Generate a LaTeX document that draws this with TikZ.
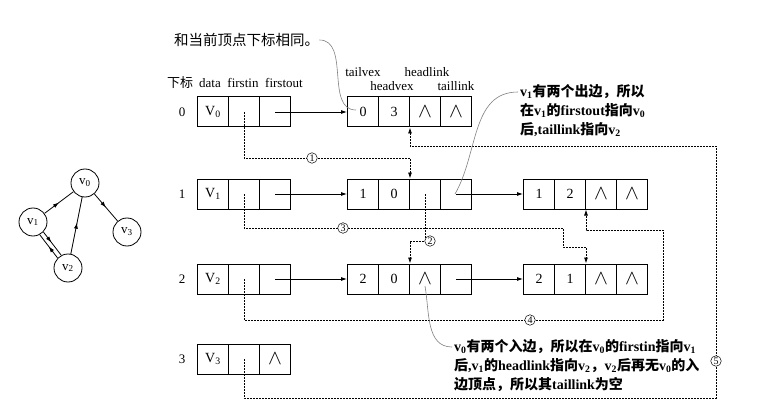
\documentclass[tikz,border=0pt]{standalone}
\usepackage{fontspec}
\setmainfont{Liberation Serif}
\newfontfamily\cjk{Noto Sans CJK SC}
\usetikzlibrary{arrows.meta,decorations.markings}
\newcommand{\zh}[1]{{\cjk #1}}
\newcommand{\nilmark}{{\fontsize{20}{20}\selectfont$\wedge$}}
\tikzset{
  cell/.style={draw, line width=1pt, minimum width=31pt, minimum height=30pt, inner sep=0pt, font=\fontsize{14}{16}\selectfont},
  head/.style={inner sep=0pt, font=\fontsize{13}{15}\selectfont},
  link/.style={-{Latex[length=6pt,width=4pt]}, line width=0.8pt},
  dlink/.style={-{Latex[length=6pt,width=4pt]}, line width=0.8pt, dash pattern=on 2pt off 1pt},
  num/.style={circle, draw, line width=0.5pt, fill=white, inner sep=0.8pt, font=\fontsize{10}{10}\selectfont},
  note/.style={draw=gray, line width=0.6pt},
  notetext/.style={inner sep=0pt, align=left, font=\fontsize{14}{19}\selectfont\bfseries},
  vex/.style={circle, draw, line width=0.8pt, minimum size=28pt, inner sep=0pt, font=\fontsize{13}{15}\selectfont},
  gedge/.style={line width=0.8pt, postaction={decorate},
    decoration={markings, mark=at position #1 with {\arrow{Latex[length=6pt,width=4pt]}}}},
  gedge/.default=0.55
}
\begin{document}
\begin{tikzpicture}[x=1pt, y=-1pt]
\useasboundingbox (0,0) rectangle (764,412);
% graph
\node[vex] (g0) at (85,183) {v\textsubscript{0}};
\node[vex] (g1) at (33,222) {v\textsubscript{1}};
\node[vex] (g2) at (68,268) {v\textsubscript{2}};
\node[vex] (g3) at (127,232) {v\textsubscript{3}};
\draw[gedge=0.5] (g1) -- (g0);
\draw[gedge=0.5] (g0) -- (g3);
\draw[gedge] (g2) -- (g0);
\draw[gedge=0.45] ([shift={(1.8pt,1.4pt)}]g1.-53) -- ([shift={(1.8pt,1.4pt)}]g2.127);
\draw[gedge=0.5] ([shift={(-1.8pt,-1.4pt)}]g2.127) -- ([shift={(-1.8pt,-1.4pt)}]g1.-53);

% headers
\node[head] (hidx) at (180,83) {\zh{下标}};
\node[head] (hdata) at (210,83) {data};
\node[head] (hin) at (243,83) {firstin};
\node[head] (hout) at (284,83) {firstout};
\node[head] (htv) at (363,72) {tailvex};
\node[head] (hhl) at (427,72) {headlink};
\node[head] (hhv) at (392,86) {headvex};
\node[head] (htl) at (456,86) {taillink};

% row numbers
\node[head] (r0) at (182,112) {0};
\node[head] (r1) at (182,194) {1};
\node[head] (r2) at (182,279) {2};
\node[head] (r3) at (182,359) {3};

% vertex table
\node[cell] (v0d) at (213,112) {V\textsubscript{0}};
\node[cell] (v0in) at (244,112) {};
\node[cell] (v0out) at (275,112) {};
\node[cell] (v1d) at (213,194) {V\textsubscript{1}};
\node[cell] (v1in) at (244,194) {};
\node[cell] (v1out) at (275,194) {};
\node[cell] (v2d) at (213,279) {V\textsubscript{2}};
\node[cell] (v2in) at (244,279) {};
\node[cell] (v2out) at (275,279) {};
\node[cell] (v3d) at (213,359) {V\textsubscript{3}};
\node[cell] (v3in) at (244,359) {};
\node[cell] (v3out) at (275,359) {\nilmark};

% arc nodes
\node[cell] (e03a) at (363,112) {0};
\node[cell] (e03b) at (394,112) {3};
\node[cell] (e03c) at (425,112) {\nilmark};
\node[cell] (e03d) at (456,112) {\nilmark};
\node[cell] (e10a) at (363,194) {1};
\node[cell] (e10b) at (394,194) {0};
\node[cell] (e10c) at (425,194) {};
\node[cell] (e10d) at (456,194) {};
\node[cell] (e12a) at (539,194) {1};
\node[cell] (e12b) at (570,194) {2};
\node[cell] (e12c) at (601,194) {\nilmark};
\node[cell] (e12d) at (632,194) {\nilmark};
\node[cell] (e20a) at (363,279) {2};
\node[cell] (e20b) at (394,279) {0};
\node[cell] (e20c) at (425,279) {\nilmark};
\node[cell] (e20d) at (456,279) {};
\node[cell] (e21a) at (539,279) {2};
\node[cell] (e21b) at (570,279) {1};
\node[cell] (e21c) at (601,279) {\nilmark};
\node[cell] (e21d) at (632,279) {\nilmark};

% out links
\draw[link] (v0out.center) -- (e03a.west);
\draw[link] (v1out.center) -- (e10a.west);
\draw[link] (v2out.center) -- (e20a.west);
\draw[link] (e10d.center) -- (e12a.west);
\draw[link] (e20d.center) -- (e21a.west);

% in links
\coordinate (b3a) at (563,228);
\coordinate (b3b) at (563,247);
\coordinate (b4a) at (663,320);
\coordinate (b4b) at (663,230);
\coordinate (b5a) at (716,398);
\coordinate (b5b) at (716,146);
\draw[dlink] (v0in.center) -- ++(0,46) -| (e10b.north east);
\draw[dlink] (e10c.center) -- ++(0,47) -| (e20b.north east);
\draw[dlink] (v1in.center) |- (b3a) -- (b3b) -| (e21b.north east);
\draw[dlink] (v2in.center) |- (b4a) -- (b4b) -| (e12b.south east);
\draw[dlink] (v3in.center) |- (b5a) -- (b5b) -| (e03b.south east);
\node[num] (n1) at (312,158) {1};
\node[num] (n2) at (430,241) {2};
\node[num] (n3) at (343,228) {3};
\node[num] (n4) at (530,320) {4};
\node[num] (n5) at (716,361) {5};

% notes
\node[inner sep=0pt, anchor=west, font=\fontsize{14.5}{16}\selectfont] (t1) at (174,40) {\zh{和当前顶点下标相同。}};
\node[notetext, anchor=north west] (t2) at (520,84) {v\textsubscript{1}\zh{有两个出边，所以}\\
  \zh{在}v\textsubscript{1}\zh{的}firstout\zh{指向}v\textsubscript{0}\\
  \zh{后},taillink\zh{指向}v\textsubscript{2}};
\node[notetext, anchor=north west] (t3) at (454,339) {v\textsubscript{0}\zh{有两个入边，所以在}v\textsubscript{0}\zh{的}firstin\zh{指向}v\textsubscript{1}\\
  \zh{后},v\textsubscript{1}\zh{的}headlink\zh{指向}v\textsubscript{2}\zh{，}v\textsubscript{2}\zh{后再无}v\textsubscript{0}\zh{的入}\\
  \zh{边顶点，所以其}taillink\zh{为空}};
\coordinate (p1) at (356,110);
\coordinate (p2) at (455,194);
\coordinate (p3) at (425,286);
\draw[note] (t1.east) to[out=0, in=180] (p1);
\draw[note] ([shift={(-2pt,-8pt)}]t2.north west) to[out=180, in=60] (p2);
\draw[note] ([shift={(-2pt,-8pt)}]t3.north west) to[out=180, in=-80] (p3);
\end{tikzpicture}
\end{document}
